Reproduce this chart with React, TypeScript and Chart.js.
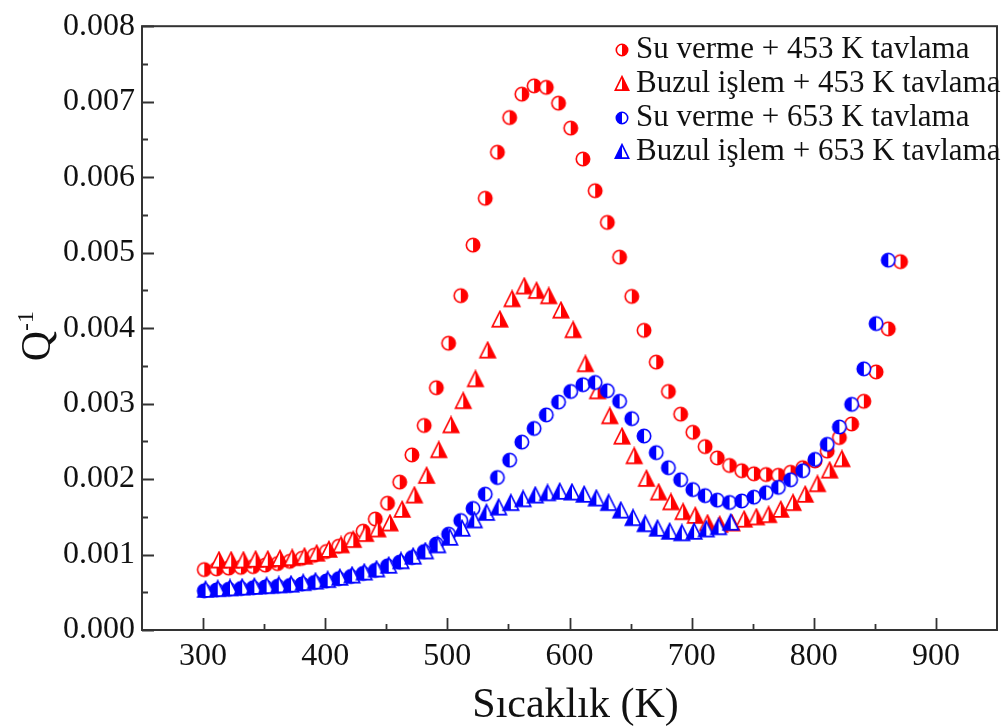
import React, { useEffect, useRef } from 'react';
import { Chart, registerables } from 'chart.js';

Chart.register(...registerables);

const FONT = '"Liberation Serif", "Times New Roman", serif';

const xTicks = [300, 400, 500, 600, 700, 800, 900];
const xTickLabels = ['300', '400', '500', '600', '700', '800', '900'];
const xMinorTicks = [350, 450, 550, 650, 750, 850];
const yTicks = [0, 0.001, 0.002, 0.003, 0.004, 0.005, 0.006, 0.007, 0.008];
const yTickLabels = ['0.000', '0.001', '0.002', '0.003', '0.004', '0.005', '0.006', '0.007', '0.008'];
const yMinorTicks = [0.0005, 0.0015, 0.0025, 0.0035, 0.0045, 0.0055, 0.0065, 0.0075];

const seriesLabels = [
  'Su verme + 453 K tavlama',
  'Buzul işlem + 453 K tavlama',
  'Su verme + 653 K tavlama',
  'Buzul işlem + 653 K tavlama',
];

const tempS1 = [301, 311, 321, 331, 341, 351, 361, 371, 381, 391, 401, 411, 421, 431, 441, 451, 461, 471, 481, 491, 501, 511, 521, 531, 541, 551, 561, 571, 581, 591, 601, 611, 621, 631, 641, 651, 661, 671, 681, 691, 701, 711, 721, 731, 741, 751, 761, 771, 781, 791, 801, 811, 821, 831, 841, 851, 861, 871];
const qS1 = [0.0008, 0.00081, 0.00082, 0.00083, 0.00084, 0.00086, 0.00088, 0.00091, 0.00095, 0.00099, 0.00104, 0.00111, 0.0012, 0.00131, 0.00147, 0.00168, 0.00196, 0.00232, 0.00271, 0.00321, 0.0038, 0.00443, 0.0051, 0.00572, 0.00633, 0.00679, 0.0071, 0.00721, 0.00719, 0.00698, 0.00665, 0.00624, 0.00582, 0.0054, 0.00494, 0.00442, 0.00397, 0.00355, 0.00316, 0.00286, 0.00262, 0.00243, 0.00228, 0.00218, 0.00211, 0.00207, 0.00206, 0.00205, 0.00209, 0.00215, 0.00224, 0.00237, 0.00255, 0.00273, 0.00303, 0.00342, 0.00399, 0.00488];

const tempS2 = [313, 323, 333, 343, 353, 363, 373, 383, 393, 403, 413, 423, 433, 443, 453, 463, 473, 483, 493, 503, 513, 523, 533, 543, 553, 563, 573, 583, 593, 603, 613, 623, 633, 643, 653, 663, 673, 683, 693, 703, 713, 723, 733, 743, 753, 763, 773, 783, 793, 803, 813, 823];
const qS2 = [0.00092, 0.00092, 0.00092, 0.00093, 0.00093, 0.00094, 0.00095, 0.00097, 0.00101, 0.00106, 0.00112, 0.00119, 0.00127, 0.00133, 0.00141, 0.00159, 0.00178, 0.00204, 0.00238, 0.00271, 0.00303, 0.00332, 0.0037, 0.00411, 0.00438, 0.00455, 0.00449, 0.00442, 0.00423, 0.00397, 0.00352, 0.00316, 0.00283, 0.00256, 0.0023, 0.002, 0.00182, 0.00169, 0.00156, 0.00151, 0.00141, 0.00139, 0.00141, 0.00146, 0.00149, 0.00152, 0.00159, 0.00168, 0.00179, 0.00193, 0.00211, 0.00226];

const tempS3 = [301, 311, 321, 331, 341, 351, 361, 371, 381, 391, 401, 411, 421, 431, 441, 451, 461, 471, 481, 491, 501, 511, 521, 531, 541, 551, 561, 571, 581, 591, 601, 611, 621, 631, 641, 651, 661, 671, 681, 691, 701, 711, 721, 731, 741, 751, 761, 771, 781, 791, 801, 811, 821, 831, 841, 851, 861];
const qS3 = [0.00052, 0.00053, 0.00054, 0.00055, 0.00056, 0.00057, 0.00058, 0.00059, 0.00061, 0.00063, 0.00065, 0.00068, 0.00071, 0.00075, 0.00079, 0.00085, 0.0009, 0.00096, 0.00104, 0.00114, 0.00127, 0.00145, 0.00161, 0.0018, 0.00202, 0.00225, 0.00249, 0.00267, 0.00285, 0.00302, 0.00316, 0.00325, 0.00328, 0.00317, 0.00303, 0.0028, 0.00257, 0.00235, 0.00215, 0.00199, 0.00186, 0.00178, 0.00172, 0.00169, 0.00171, 0.00176, 0.00182, 0.00189, 0.00199, 0.00211, 0.00226, 0.00246, 0.00269, 0.00299, 0.00346, 0.00406, 0.0049];

const tempS4 = [302, 312, 322, 332, 342, 352, 362, 372, 382, 392, 402, 412, 422, 432, 442, 452, 462, 472, 482, 492, 502, 512, 522, 532, 542, 552, 562, 572, 582, 592, 602, 612, 622, 632, 642, 652, 662, 672, 682, 692, 702, 712, 722, 732];
const qS4 = [0.00053, 0.00054, 0.00055, 0.00056, 0.00057, 0.00058, 0.00059, 0.0006, 0.00062, 0.00064, 0.00066, 0.00069, 0.00072, 0.00076, 0.0008, 0.00085, 0.00091, 0.00097, 0.00104, 0.00112, 0.00122, 0.00134, 0.00145, 0.00155, 0.00162, 0.00168, 0.00173, 0.00178, 0.00181, 0.00183, 0.00182, 0.00179, 0.00174, 0.00168, 0.00158, 0.00148, 0.0014, 0.00134, 0.0013, 0.00128, 0.0013, 0.00133, 0.00136, 0.00142];

const RED = '#ff0000';
const BLUE = '#0000ff';

function makeCircle(color: string, filledSide: 'left' | 'right', d: number) {
  const s = Math.ceil(d + 3);
  const c = document.createElement('canvas');
  c.width = s;
  c.height = s;
  const ctx = c.getContext('2d')!;
  const cx = s / 2;
  const r = d / 2 - 0.8;
  ctx.beginPath();
  ctx.arc(cx, cx, r, 0, Math.PI * 2);
  ctx.fillStyle = '#ffffff';
  ctx.fill();
  ctx.beginPath();
  if (filledSide === 'right') ctx.arc(cx, cx, r, -Math.PI / 2, Math.PI / 2);
  else ctx.arc(cx, cx, r, Math.PI / 2, (3 * Math.PI) / 2);
  ctx.closePath();
  ctx.fillStyle = color;
  ctx.fill();
  ctx.beginPath();
  ctx.arc(cx, cx, r, 0, Math.PI * 2);
  ctx.lineWidth = 1.6;
  ctx.strokeStyle = color;
  ctx.stroke();
  return c;
}

function makeTriangle(color: string, filledSide: 'left' | 'right', w: number) {
  const s = Math.ceil(w + 3);
  const c = document.createElement('canvas');
  c.width = s;
  c.height = s;
  const ctx = c.getContext('2d')!;
  const cx = s / 2;
  const h = w * 0.9;
  const top = s / 2 - h * 0.55;
  const bot = s / 2 + h * 0.45;
  const l = cx - w / 2 + 0.8;
  const r = cx + w / 2 - 0.8;
  ctx.beginPath();
  ctx.moveTo(cx, top);
  ctx.lineTo(r, bot);
  ctx.lineTo(l, bot);
  ctx.closePath();
  ctx.fillStyle = '#ffffff';
  ctx.fill();
  ctx.beginPath();
  ctx.moveTo(cx, top);
  if (filledSide === 'right') ctx.lineTo(r, bot);
  else ctx.lineTo(l, bot);
  ctx.lineTo(cx, bot);
  ctx.closePath();
  ctx.fillStyle = color;
  ctx.fill();
  ctx.beginPath();
  ctx.moveTo(cx, top);
  ctx.lineTo(r, bot);
  ctx.lineTo(l, bot);
  ctx.closePath();
  ctx.lineWidth = 1.6;
  ctx.lineJoin = 'miter';
  ctx.strokeStyle = color;
  ctx.stroke();
  return c;
}

export default function App() {
  const ref = useRef<HTMLCanvasElement | null>(null);

  useEffect(() => {
    if (!ref.current) return;
    const markers = [
      makeCircle(RED, 'right', 15),
      makeTriangle(RED, 'right', 17),
      makeCircle(BLUE, 'left', 15),
      makeTriangle(BLUE, 'left', 17),
    ];
    const legendMarkers = [
      makeCircle(RED, 'right', 13),
      makeTriangle(RED, 'right', 15),
      makeCircle(BLUE, 'left', 13),
      makeTriangle(BLUE, 'left', 15),
    ];
    const temps = [tempS1, tempS2, tempS3, tempS4];
    const qs = [qS1, qS2, qS3, qS4];

    const framePlugin = {
      id: 'frame',
      afterDraw(chart: any) {
        const { ctx, chartArea: a, scales } = chart;
        const xs = scales.x;
        const ys = scales.y;
        ctx.save();
        ctx.strokeStyle = '#333333';
        ctx.lineWidth = 2;
        ctx.strokeRect(a.left, a.top, a.right - a.left, a.bottom - a.top);
        ctx.lineWidth = 1.8;
        ctx.beginPath();
        xTicks.forEach((v) => {
          const px = Math.round(xs.getPixelForValue(v)) + 0.5;
          ctx.moveTo(px, a.bottom);
          ctx.lineTo(px, a.bottom - 12);
        });
        xMinorTicks.forEach((v) => {
          const px = Math.round(xs.getPixelForValue(v)) + 0.5;
          ctx.moveTo(px, a.bottom);
          ctx.lineTo(px, a.bottom - 6);
        });
        yTicks.forEach((v) => {
          const py = Math.round(ys.getPixelForValue(v)) + 0.5;
          ctx.moveTo(a.left, py);
          ctx.lineTo(a.left + 12, py);
        });
        yMinorTicks.forEach((v) => {
          const py = Math.round(ys.getPixelForValue(v)) + 0.5;
          ctx.moveTo(a.left, py);
          ctx.lineTo(a.left + 6, py);
        });
        ctx.stroke();

        // axis titles
        ctx.fillStyle = '#111111';
        ctx.font = `42px ${FONT}`;
        ctx.textAlign = 'center';
        ctx.textBaseline = 'alphabetic';
        ctx.fillText('Sıcaklık (K)', (a.left + a.right) / 2 + 6, 717);

        // y title Q^-1, rotated
        ctx.save();
        ctx.translate(50, (a.top + a.bottom) / 2 + 8);
        ctx.rotate(-Math.PI / 2);
        ctx.font = `42px ${FONT}`;
        const qW = ctx.measureText('Q').width;
        ctx.font = `24px ${FONT}`;
        const sW = ctx.measureText('-1').width;
        const total = qW + sW;
        ctx.textAlign = 'left';
        ctx.font = `42px ${FONT}`;
        ctx.fillText('Q', -total / 2, 0);
        ctx.font = `24px ${FONT}`;
        ctx.fillText('-1', -total / 2 + qW, -17);
        ctx.restore();

        // legend
        ctx.font = `31px ${FONT}`;
        ctx.textAlign = 'left';
        ctx.textBaseline = 'middle';
        chart.data.datasets.forEach((ds: any, i: number) => {
          const y = 50 + i * 34;
          const m = legendMarkers[i];
          ctx.drawImage(m, 622 - m.width / 2, y - m.height / 2);
          ctx.fillStyle = '#111111';
          ctx.fillText(ds.label, 636, y);
        });
        ctx.restore();
      },
    };

    const datasets = [0, 1, 2, 3].map((i) => ({
      label: seriesLabels[i],
      data: temps[i].map((t, k) => ({ x: t, y: qs[i][k] })),
      pointStyle: markers[i],
      pointRadius: 7,
      showLine: false,
      order: 4 - i,
    }));

    const chart = new Chart(ref.current, {
      type: 'scatter',
      data: { datasets },
      plugins: [framePlugin],
      options: {
        animation: false,
        responsive: false,
        maintainAspectRatio: false,
        layout: { padding: { top: 15, right: 3, left: 0, bottom: 0 } },
        plugins: {
          legend: { display: false },
          tooltip: { enabled: false },
        },
        scales: {
          x: {
            type: 'linear',
            min: 250,
            max: 950,
            afterBuildTicks: (s: any) => {
              s.ticks = xTicks.map((v) => ({ value: v }));
            },
            afterFit: (s: any) => {
              s.height = 97;
            },
            grid: { display: false, drawTicks: false },
            border: { display: false },
            ticks: {
              padding: 7,
              color: '#111111',
              font: { family: FONT, size: 32 },
              maxRotation: 0,
              callback: (v: any) => {
                const i = xTicks.indexOf(Number(v));
                return i >= 0 ? xTickLabels[i] : '';
              },
            },
          },
          y: {
            type: 'linear',
            min: 0,
            max: 0.008,
            afterBuildTicks: (s: any) => {
              s.ticks = yTicks.map((v) => ({ value: v }));
            },
            afterFit: (s: any) => {
              s.width = 142;
            },
            grid: { display: false, drawTicks: false },
            border: { display: false },
            ticks: {
              padding: 7,
              color: '#111111',
              font: { family: FONT, size: 32 },
              callback: (v: any) => {
                const i = yTicks.findIndex((t) => Math.abs(t - Number(v)) < 1e-9);
                return i >= 0 ? yTickLabels[i] : '';
              },
            },
          },
        },
      },
    });
    return () => chart.destroy();
  }, []);

  return (
    <div style={{ position: 'fixed', left: 0, top: 0, width: 1005, height: 727, background: '#ffffff' }}>
      <canvas ref={ref} width={1005} height={727} style={{ width: 1005, height: 727, display: 'block' }} />
    </div>
  );
}
